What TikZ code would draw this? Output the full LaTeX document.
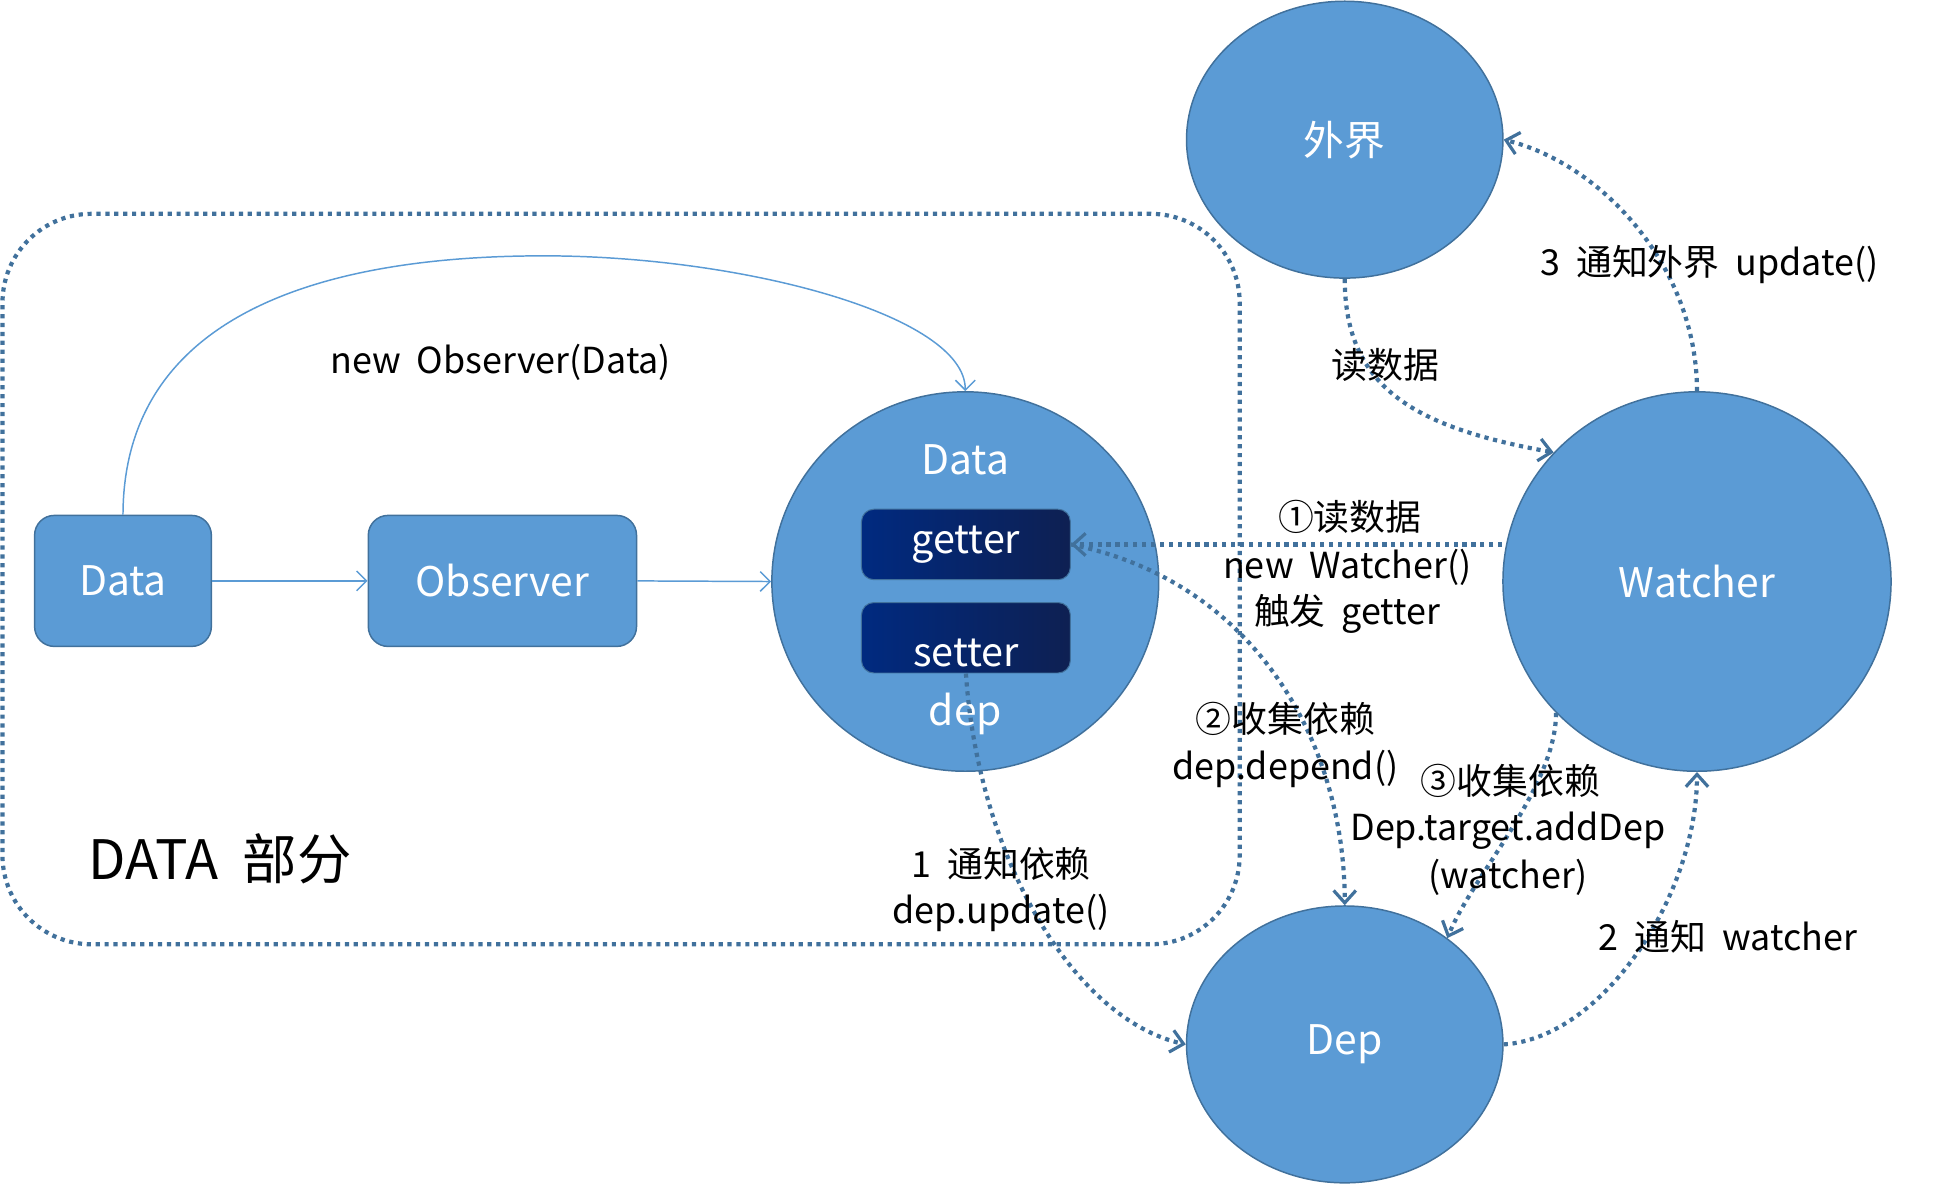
\documentclass[tikz,border=0pt]{standalone}
\usepackage{fontspec}
\setmainfont{Noto Sans CJK SC}
\usepackage{tikz}
\usetikzlibrary{arrows.meta,shapes.geometric}
\definecolor{boxfill}{HTML}{5B9BD5}
\definecolor{boxline}{HTML}{41719C}
\definecolor{dotline}{HTML}{41719C}
\definecolor{getleft}{HTML}{002A80}
\definecolor{getright}{HTML}{0E2052}
\tikzset{
  blockbox/.style={draw=boxline,fill=boxfill,rounded corners=8pt,line width=0.6pt,text=white,font=\fontsize{16.5}{20}\selectfont,inner sep=0pt},
  bubble/.style={ellipse,draw=boxline,fill=boxfill,line width=0.6pt,text=white,font=\fontsize{16.5}{20}\selectfont,inner sep=0pt},
  accessor/.style={draw=boxline,rounded corners=5pt,left color=getleft,right color=getright,text=white,font=\fontsize{16}{18}\selectfont,minimum width=84.5pt,minimum height=28.5pt,inner sep=0pt},
  whitetext/.style={text=white,font=\fontsize{16.5}{20}\selectfont,inner sep=0pt},
  flow/.style={boxfill,line width=0.6pt,-{Straight Barb[length=4pt,width=8pt]}},
  dotflow/.style={dotline,line width=1.7pt,dash pattern=on 1.7pt off 1.9pt,-{Straight Barb[length=5pt,width=9pt,line width=1.3pt]}},
  note/.style={font=\fontsize{14.5}{17}\selectfont,inner sep=0pt}
}
\begin{document}
\begin{tikzpicture}[x=0.5pt,y=-0.5pt]
\useasboundingbox (0,0) rectangle (1568,958);
\node[draw=dotline,line width=1.7pt,dash pattern=on 1.7pt off 1.9pt,rounded corners=36pt,minimum width=500.5pt,minimum height=295.5pt] (datapart) at (502.5,468.5) {};
\node[note,font=\fontsize{22}{26}\selectfont] (partname) at (178,695) {DATA\ \ 部分};

\node[blockbox,minimum width=71.5pt,minimum height=53pt] (datain) at (99.5,470) {Data};
\node[blockbox,minimum width=108.5pt,minimum height=53pt] (observer) at (406.5,470) {Observer};
\node[bubble,minimum width=156.5pt,minimum height=153.5pt] (datac) at (781,470.5) {};
\node[whitetext] (datatitle) at (781,372) {Data};
\node[whitetext] (deptext) at (781,578) {dep};
\node[accessor] (getter) at (781.5,440.5) {getter};
\node[accessor] (setter) at (781.5,516) {};
\node[whitetext,font=\fontsize{16}{18}\selectfont] (settertext) at (781.5,528) {setter};
\node[bubble,minimum width=128pt,minimum height=112pt] (outer) at (1088,113) {外界};
\node[bubble,minimum width=157pt,minimum height=153.5pt] (watcher) at (1373,470.5) {Watcher};
\node[bubble,minimum width=128pt,minimum height=112pt] (dep) at (1088,845) {Dep};

\draw[flow] (datain.east) -- (observer.west);
\draw[flow] (observer.east) -- (datac.west);
\draw[flow] (datain.north) .. controls (100,260) and (250,207) .. (440,207)
  .. controls (600,207) and (781,255) .. (datac.north);
\node[note] (newobs) at (405,293) {new\ \ Observer(Data)};

\draw[dotflow] (outer.south) .. controls +(0,90) and +(-110,-20) .. (watcher.138);
\draw[dotflow] (watcher.north) .. controls +(0,-100) and +(80,20) .. (outer.east);
\draw[dotflow] (watcher.west |- getter.east) -- (getter.east);
\draw[dotflow] (getter.east) .. controls +(150,30) and +(0,-130) .. (dep.north);
\draw[dotflow] (watcher.223) .. controls +(0,60) and +(20,-50) .. (dep.46);
\draw[dotflow] (setter.south) .. controls +(10,150) and +(-90,-20) .. (dep.west);
\draw[dotflow] (dep.east) .. controls +(80,-5) and +(0,100) .. (watcher.south);

\node[note] (readdata) at (1121,295) {读数据};
\node[note] (tellouter) at (1383,214) {3\ \ 通知外界\ \ update()};
\node[note] (step1a) at (1092,418) {①读数据};
\node[note] (step1b) at (1090,459) {new\ \ Watcher()};
\node[note] (step1c) at (1090,497) {触发\ \ getter};
\node[note] (step2a) at (1040,582) {②收集依赖};
\node[note] (step2b) at (1040,622) {dep.depend()};
\node[note] (step3a) at (1222,632) {③收集依赖};
\node[note] (step3b) at (1220,672) {Dep.target.addDep};
\node[note] (step3c) at (1220,710) {(watcher)};
\node[note] (tell1a) at (810,699) {1\ \ 通知依赖};
\node[note] (tell1b) at (810,739) {dep.update()};
\node[note] (tell2) at (1398,758) {2\ \ 通知\ \ watcher};
\end{tikzpicture}
\end{document}
